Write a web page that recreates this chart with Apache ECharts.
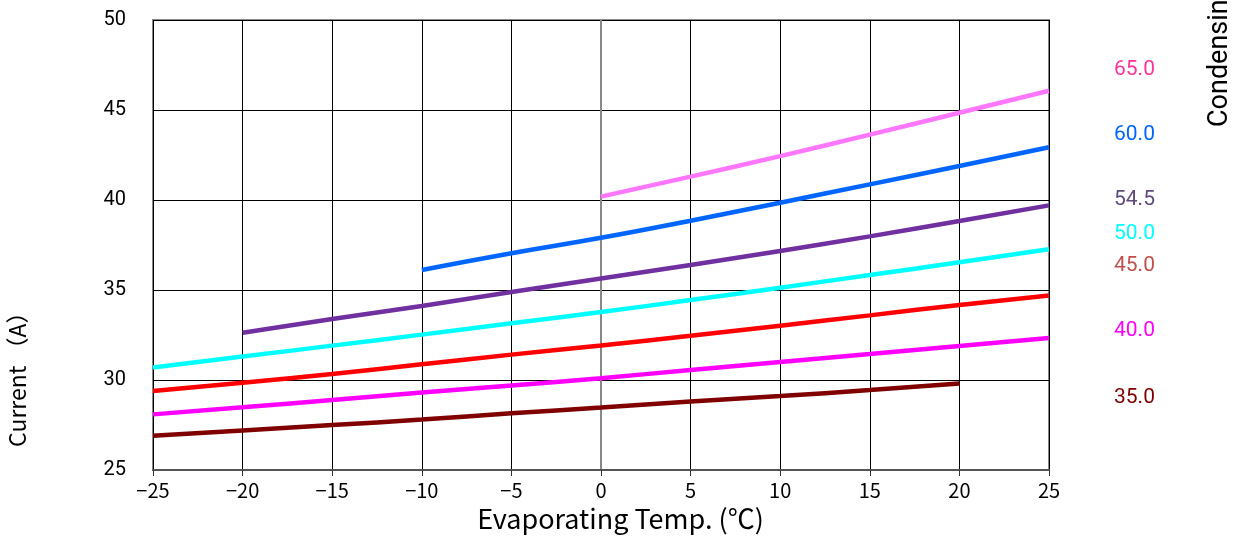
<!DOCTYPE html>
<html>
<head>
<meta charset="utf-8">
<script src="https://cdn.jsdelivr.net/npm/echarts@6/dist/echarts.min.js"></script>
<style>
  html, body { margin: 0; padding: 0; background: #fff; }
  #main { width: 1241px; height: 542px; }
</style>
</head>
<body>
<div id="main"></div>
<script>
// evaporating temperature (°C)
var temps = [-25, -20, -15, -10, -5, 0, 5, 10, 15, 20, 25];

// current (A) per condensing temperature, null where no curve
var cond35 = [26.9, 27.2, 27.5, 27.8, 28.15, 28.47, 28.8, 29.11, 29.44, 29.8, null];
var cond40 = [28.09, 28.48, 28.89, 29.3, 29.7, 30.1, 30.56, 31.0, 31.44, 31.89, 32.33];
var cond45 = [29.39, 29.85, 30.33, 30.87, 31.41, 31.92, 32.46, 33.02, 33.59, 34.17, 34.7];
var cond50 = [30.69, 31.3, 31.91, 32.52, 33.15, 33.78, 34.44, 35.13, 35.83, 36.54, 37.26];
var cond545 = [null, 32.63, 33.39, 34.11, 34.89, 35.64, 36.39, 37.17, 37.98, 38.83, 39.7];
var cond60 = [null, null, null, 36.11, 37.04, 37.9, 38.85, 39.85, 40.87, 41.89, 42.93];
var cond65 = [null, null, null, null, null, 40.19, 41.3, 42.44, 43.63, 44.85, 46.07];

var curveNames = ['35.0', '40.0', '45.0', '50.0', '54.5', '60.0', '65.0'];
var curveValues = [cond35, cond40, cond45, cond50, cond545, cond60, cond65];
var lineColors = ['#800000', '#ff00ff', '#ff0000', '#00ffff', '#7030a0', '#0066ff', '#ff77ff'];
var labelColors = ['#800000', '#ff00ff', '#c0504d', '#00ffff', '#604a7b', '#0066ff', '#ff3399'];
var labelY = [396, 329, 264, 232, 198, 133, 68];

function pairs(vals) {
  var out = [];
  for (var i = 0; i < temps.length; i++) {
    if (vals[i] != null) out.push([temps[i], vals[i]]);
  }
  return out;
}

var series = curveValues.map(function (vals, i) {
  return {
    name: curveNames[i],
    type: 'line',
    data: pairs(vals),
    smooth: true,
    showSymbol: false,
    lineStyle: { color: lineColors[i], width: 4.5 },
    z: 3
  };
});

var labels = curveNames.map(function (n, i) {
  return {
    type: 'text',
    left: 1114,
    top: labelY[i] - 9,
    style: { text: n, fill: labelColors[i], fontSize: 21, fontFamily: 'Roboto' }
  };
});

var chart = echarts.init(document.getElementById('main'));
chart.setOption({
  animation: false,
  grid: { left: 153, right: 192, top: 20, bottom: 72, show: true, borderColor: '#888', borderWidth: 2 },
  xAxis: {
    type: 'value', min: -25, max: 25, interval: 5,
    axisLine: { show: true, onZero: false, lineStyle: { color: '#555', width: 2 } },
    axisTick: { show: true, length: 6, lineStyle: { color: '#333' } },
    axisLabel: {
      color: '#000', fontSize: 20, margin: 10, fontFamily: 'Noto Sans CJK JP',
      formatter: function (v) { return String(v).replace('-', '\u2212'); }
    },
    splitLine: { lineStyle: { color: '#000', width: 1 } }
  },
  yAxis: {
    type: 'value', min: 25, max: 50, interval: 5,
    axisLine: { show: true, lineStyle: { color: '#888', width: 2 } },
    axisTick: { show: false },
    axisLabel: { color: '#000', fontSize: 20, margin: 27, fontFamily: 'Roboto' },
    splitLine: { lineStyle: { color: '#000', width: 1 } }
  },
  series: series,
  graphic: labels.concat([
    {
      type: 'text', left: 'center', top: 505,
      style: { text: 'Evaporating Temp. (\u2103)', fill: '#000', fontSize: 27, fontFamily: 'Noto Sans CJK JP' }
    },
    {
      type: 'text', x: 6, y: 447, rotation: Math.PI / 2,
      style: { text: 'Current \uff08A\uff09', fill: '#000', fontSize: 23, fontFamily: 'Noto Sans CJK JP' }
    },
    {
      type: 'text', x: 1207, y: 127, rotation: Math.PI / 2,
      style: { text: 'Condensing Temp. (\u2103)', fill: '#000', fontSize: 27, fontFamily: 'Roboto' }
    }
  ])
});
</script>
</body>
</html>
